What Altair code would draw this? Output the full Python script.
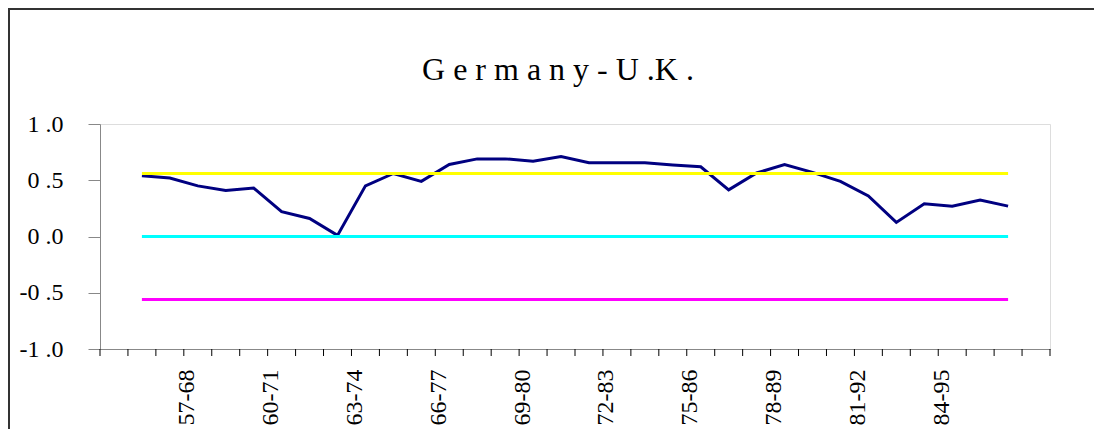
import altair as alt
import pandas as pd

# ---- data ----
title_text = "G e r m a n y - U  .K  ."
corr_values = [0.54, 0.52, 0.45, 0.41, 0.43, 0.22, 0.16, 0.01, 0.45, 0.56,
               0.49, 0.64, 0.69, 0.69, 0.67, 0.71, 0.655, 0.655, 0.655, 0.635,
               0.62, 0.415, 0.565, 0.64, 0.57, 0.49, 0.36, 0.125, 0.29, 0.27,
               0.325, 0.27]
band_names = ["upper", "zero", "lower"]
band_levels = [0.56, 0.0, -0.56]
band_colors = ["#FFFF00", "#00FFFF", "#FF00FF"]
n_slots = 34          # category slots on the x axis
first_slot = 1        # first slot holding data
x_label_slots = [3, 6, 9, 12, 15, 18, 21, 24, 27, 30]
x_label_texts = ["57-68", "60-71", "63-74", "66-77", "69-80",
                 "72-83", "75-86", "78-89", "81-92", "84-95"]
y_tick_values = [-1.0, -0.5, 0.0, 0.5, 1.0]
y_tick_labels = ["-1 .0", "-0 .5", "0 .0", "0 .5", "1 .0"]

pos = [first_slot + i + 0.5 for i in range(len(corr_values))]
df = pd.DataFrame({"pos": pos, "r": corr_values})
ref = pd.DataFrame({"start": [pos[0]] * 3, "end": [pos[-1]] * 3,
                    "level": band_levels, "band": band_names})
slots = pd.DataFrame({"slot": list(range(n_slots + 1))})


def ternary(values, labels):
    parts = [f"datum.value == {v} ? '{t}'" for v, t in zip(values, labels)]
    return " : ".join(parts) + " : ''"


FONT = "Liberation Serif, 'Times New Roman', Times, 'DejaVu Serif', serif"
x_scale = alt.Scale(domain=[0, n_slots], nice=False, zero=False)
y_scale = alt.Scale(domain=[-1, 1], nice=False)

x_axis = alt.Axis(values=x_label_slots, labelExpr=ternary(x_label_slots, x_label_texts),
                  title=None, grid=False, ticks=False, labelAngle=-90, labelAlign="right",
                  labelBaseline="middle", labelFont=FONT, labelFontSize=24, labelPadding=20,
                  labelOffset=3, labelOverlap=False, labelFlush=False, labelBound=False)
y_axis = alt.Axis(values=y_tick_values, labelExpr=ternary(y_tick_values, y_tick_labels),
                  title=None, grid=False, tickSize=12, labelFont=FONT, labelFontSize=24,
                  labelPadding=25, labelOverlap=False, labelFlush=False)

main = alt.Chart(df).mark_line(color="#000080", strokeWidth=3).encode(
    x=alt.X("pos:Q", scale=x_scale, axis=x_axis),
    y=alt.Y("r:Q", scale=y_scale, axis=y_axis),
)

bands = alt.Chart(ref).mark_rule(strokeWidth=3).encode(
    x=alt.X("start:Q", scale=x_scale),
    x2="end:Q",
    y=alt.Y("level:Q", scale=y_scale),
    color=alt.Color("band:N", scale=alt.Scale(domain=band_names, range=band_colors), legend=None),
)

x_ticks = alt.Chart(slots).mark_rule(color="black", strokeWidth=1).encode(
    x=alt.X("slot:Q", scale=x_scale), y=alt.value(225), y2=alt.value(232))

title_mark = alt.Chart(alt.Data(values=[{"t": title_text}])).mark_text(
    font=FONT, fontSize=32, color="black", align="center", baseline="alphabetic"
).encode(x=alt.value(458), y=alt.value(-44), text="t:N")

frame = alt.Chart(alt.Data(values=[{}]))
frame_left = frame.mark_rule(color="#333333", strokeWidth=2).encode(
    x=alt.value(-91), y=alt.value(-115), y2=alt.value(310))
frame_top = frame.mark_rule(color="#333333", strokeWidth=2).encode(
    y=alt.value(-115), x=alt.value(-92), x2=alt.value(1000))

chart = alt.layer(main, bands, x_ticks, title_mark, frame_left, frame_top).properties(
    width=950, height=225,
    autosize=alt.AutoSizeParams(type="none"),
    padding={"left": 92, "top": 116, "right": 44, "bottom": 80},
).configure_view(stroke="#555555", strokeWidth=1).configure_axis(
    domainColor="black", tickColor="black", labelColor="black",
    domainWidth=1, tickWidth=1,
).configure(background="white")

chart.save("out.html", embed_options={"renderer": "svg", "actions": False})
